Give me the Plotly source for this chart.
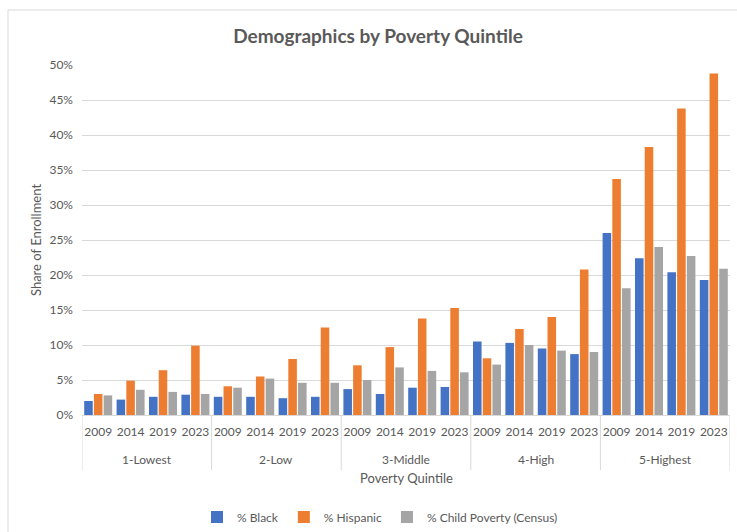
import plotly.graph_objects as go

quintiles = ["1-Lowest", "2-Low", "3-Middle", "4-High", "5-Highest"]
years = ["2009", "2014", "2019", "2023"]

pct_black = [
    2.0, 2.2, 2.6, 2.9,
    2.6, 2.6, 2.4, 2.6,
    3.7, 3.0, 3.9, 4.0,
    10.5, 10.3, 9.5, 8.7,
    26.0, 22.4, 20.4, 19.3,
]
pct_hispanic = [
    3.0, 4.9, 6.4, 9.9,
    4.1, 5.5, 8.0, 12.5,
    7.1, 9.7, 13.8, 15.3,
    8.1, 12.3, 14.0, 20.8,
    33.7, 38.3, 43.8, 48.8,
]
pct_child_poverty = [
    2.8, 3.6, 3.3, 3.0,
    3.9, 5.2, 4.6, 4.6,
    5.0, 6.8, 6.3, 6.1,
    7.2, 10.0, 9.2, 9.0,
    18.1, 24.0, 22.7, 20.9,
]
series_names = ["% Black", "% Hispanic", "% Child Poverty (Census)"]
series_colors = ["#4472C4", "#ED7D31", "#A5A5A5"]

n_y = len(years)
x_pos = list(range(len(quintiles) * n_y))
x_year_labels = [y for _ in quintiles for y in years]

FONT = "Lato, 'Open Sans', sans-serif"
TXT = "#595959"
GRID = "#D9D9D9"

fig = go.Figure()
for name, vals, col in zip(series_names, [pct_black, pct_hispanic, pct_child_poverty], series_colors):
    fig.add_trace(go.Bar(x=x_pos, y=vals, name=name, marker_color=col, marker_line_width=0))

L, R, T, B = 82, 7, 65, 117
W, H = 737, 532
pw, ph = W - L - R, H - T - B

def py(pix):
    """pixel row -> paper y"""
    return (H - B - pix) / ph

fig.update_layout(
    width=W, height=H,
    margin=dict(l=L, r=R, t=T, b=B, autoexpand=False),
    paper_bgcolor="white", plot_bgcolor="white",
    font=dict(family=FONT, size=12, color=TXT),
    barmode="group", bargap=0.1, bargroupgap=0.12,
    title=dict(text="<b>Demographics by Poverty Quintile</b>", x=378 / W, xanchor="center",
               y=1 - 36 / H, yanchor="middle",
               font=dict(family=FONT, size=19, color=TXT)),
    legend=dict(orientation="h", x=(380 - L) / pw, xanchor="center",
                y=py(517), yanchor="middle",
                font=dict(size=12, color=TXT), itemwidth=30, traceorder="normal"),
    showlegend=True,
)
fig.update_yaxes(range=[0, 50], dtick=5, ticksuffix="%", showgrid=True,
                 gridcolor=GRID, gridwidth=1, zeroline=False,
                 tickfont=dict(size=12, color=TXT), ticks="", ticklen=0,
                 ticklabelstandoff=8, automargin=False,
                 title=dict(text="Share of Enrollment", font=dict(size=13, color=TXT), standoff=4))
fig.update_xaxes(range=[-0.5, len(x_pos) - 0.5], tickmode="array", tickvals=x_pos,
                 ticktext=x_year_labels, showgrid=False, zeroline=False,
                 showline=True, linecolor=GRID, linewidth=1,
                 tickfont=dict(size=12, color=TXT), ticks="", tickangle=0, automargin=False,
                 ticklabelstandoff=6)

# group labels, dividers
for gi, q in enumerate(quintiles):
    fig.add_annotation(x=gi * n_y + (n_y - 1) / 2, xref="x", y=py(459), yref="paper",
                       text=q, showarrow=False, yanchor="middle",
                       font=dict(size=12, color=TXT))
for gi in range(len(quintiles) + 1):
    fig.add_shape(type="line", xref="x", yref="paper",
                  x0=gi * n_y - 0.5, x1=gi * n_y - 0.5, y0=0, y1=py(470),
                  line=dict(color=GRID, width=1))

fig.add_annotation(x=0.5, xref="paper", y=py(478), yref="paper", text="Poverty Quintile",
                   showarrow=False, yanchor="middle", font=dict(size=13, color=TXT))

# chart-area border
fig.add_shape(type="rect", xref="paper", yref="paper",
              x0=(8 - L) / pw, x1=(760 - L) / pw,
              y0=py(560), y1=py(10),
              line=dict(color=GRID, width=1), fillcolor="rgba(0,0,0,0)", layer="below")

fig.write_html("out.html")
